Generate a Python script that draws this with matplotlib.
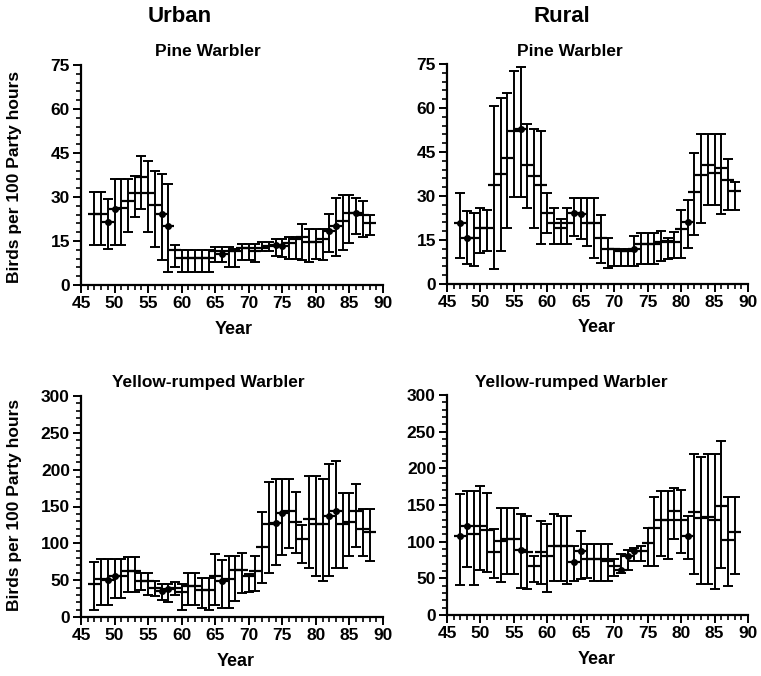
import matplotlib
matplotlib.use("Agg")
import matplotlib.pyplot as plt
from matplotlib.ticker import MultipleLocator
import numpy as np

plt.rcParams['font.family'] = ['Liberation Sans', 'DejaVu Sans']

years = list(range(47, 89))

# Urban - Pine Warbler
up_mean = [24.1, 24.1, 21.6, 25.8, 26.1, 28.6, 31.2, 36.8, 31.2, 27.3, 24.3, 20.1, 11.9,
           9.2, 9.2, 9.2, 9.2, 9.2, 11.7, 10.5, 11.7, 11.7, 12.6, 12.6, 11.7, 12.6, 13.3,
           13.6, 13.3, 14.3, 15.6, 16.2, 14.7, 14.7, 15.8, 18.4, 20.1, 21.8, 24.7, 24.7, 23.9, 21.3]
up_high = [31.7, 31.7, 29.2, 36.3, 36.3, 36.3, 37.3, 44.1, 42.4, 38.8, 38.0, 34.5, 13.6,
           11.9, 11.9, 11.9, 11.9, 11.9, 12.8, 12.8, 12.8, 12.4, 13.9, 13.9, 13.9, 14.5, 14.5,
           15.6, 15.6, 16.4, 16.4, 20.9, 19.0, 19.0, 19.0, 24.3, 29.5, 30.7, 30.7, 29.5, 28.8, 23.8]
up_low = [13.6, 13.6, 12.4, 13.6, 13.6, 17.9, 23.2, 25.8, 18.1, 12.8, 8.6, 4.5, 6.0,
          4.3, 4.3, 4.3, 4.3, 4.3, 8.0, 8.0, 6.0, 6.0, 8.6, 8.6, 7.7, 11.7, 11.7,
          10.0, 9.5, 8.8, 8.8, 8.5, 8.0, 8.8, 8.6, 11.1, 10.0, 12.0, 14.3, 17.3, 16.4, 17.1]
up_dot = [0, 0, 1, 1, 0, 0, 0, 0, 0, 0, 1, 1, 0,
          0, 0, 0, 0, 0, 0, 1, 0, 0, 0, 0, 0, 0, 0,
          1, 1, 0, 0, 0, 0, 0, 0, 1, 1, 0, 0, 1, 0, 0]

# Rural - Pine Warbler
rp_mean = [20.9, 15.8, 15.6, 19.2, 19.2, 33.9, 37.6, 43.0, 52.3, 52.9, 40.7, 36.8, 33.9,
           24.3, 20.9, 19.0, 20.9, 24.3, 23.8, 20.9, 20.9, 15.8, 11.9, 11.9, 11.3, 11.3, 11.9,
           13.6, 13.6, 13.6, 14.4, 14.7, 14.4, 18.7, 21.3, 31.4, 37.1, 40.4, 37.9, 39.6, 35.3, 31.7]
rp_high = [31.1, 24.9, 24.1, 25.8, 25.1, 60.7, 63.3, 65.0, 72.7, 73.9, 54.6, 52.9, 52.3,
           31.1, 26.0, 22.0, 26.0, 29.4, 29.4, 29.4, 29.4, 23.4, 15.6, 11.9, 11.9, 11.9, 16.4,
           17.5, 17.5, 17.5, 18.1, 15.6, 17.8, 25.1, 28.8, 44.5, 51.1, 51.1, 51.1, 51.1, 42.6, 34.8]
rp_low = [8.7, 6.8, 6.0, 10.5, 11.3, 5.1, 11.3, 19.0, 29.6, 29.6, 26.0, 19.2, 13.8,
          17.3, 13.8, 13.8, 13.8, 16.4, 15.5, 13.0, 8.7, 7.0, 5.3, 6.0, 6.0, 6.0, 6.0,
          6.8, 6.8, 6.8, 7.9, 8.5, 8.7, 8.7, 12.2, 16.6, 20.9, 27.1, 27.1, 23.8, 25.1, 25.1]
rp_dot = [1, 1, 0, 0, 0, 0, 0, 0, 0, 1, 0, 0, 0,
          0, 0, 0, 0, 1, 1, 0, 0, 0, 0, 0, 0, 0, 1,
          0, 0, 0, 0, 0, 0, 0, 1, 0, 0, 0, 0, 0, 0, 0]

# Urban - Yellow-rumped Warbler
uy_mean = [45, 52, 50.5, 55, 55, 61.8, 61.8, 48.3, 48.3, 39.2, 35, 37.9, 39.2,
           33.8, 41.5, 41.5, 36, 36, 55, 48.3, 52, 64, 64, 55, 62.7, 95.6, 125.8,
           127, 140.7, 143.9, 129.5, 105.5, 132.6, 126.3, 126.3, 137, 144, 126, 129.5, 144, 119, 116]
uy_high = [75.3, 79, 79, 79, 79, 82.1, 82.1, 59.5, 59.5, 48.3, 45, 45, 47.4,
           45.1, 60.4, 60.4, 52.8, 52.8, 85.7, 77.6, 83.4, 83.4, 86.6, 58, 83.4, 142, 183.6,
           187, 187, 187, 170, 125, 191, 191, 188, 208, 212, 169, 169, 180, 146.6, 146.6]
uy_low = [9.9, 16.7, 16.7, 25.7, 25.7, 33.8, 33.8, 37, 30.2, 28.9, 23.5, 20.3, 30,
          9.9, 16.7, 16.7, 12.2, 9.9, 16.7, 12.2, 12.2, 21.2, 32.5, 33.8, 34.7, 46, 59.5,
          70, 84.3, 93.4, 86.6, 73, 66.3, 55.9, 48.3, 55.9, 66, 66, 83.4, 95.6, 83.4, 76]
uy_dot = [0, 0, 1, 1, 0, 0, 0, 0, 0, 0, 1, 1, 0,
          0, 0, 0, 0, 0, 0, 1, 0, 0, 0, 0, 0, 0, 0,
          1, 1, 0, 0, 0, 0, 0, 0, 1, 1, 0, 0, 0, 0, 0]

# Rural - Yellow-rumped Warbler
ry_mean = [107.4, 121, 111, 121, 116.4, 86, 100.6, 103.8, 103.8, 88.4, 86, 66.6, 86,
           80.2, 93.8, 93.8, 93.8, 72, 87, 77, 77, 77, 73.4, 66.6, 61, 80.2, 87,
           87, 98.3, 118.7, 129, 129, 142.3, 129, 108.3, 140, 132.3, 133.7, 130, 148, 102.9, 112.8]
ry_high = [165.4, 169.5, 169.5, 176, 166, 117.4, 146, 146, 146, 138, 134.6, 80.2, 127.8,
           124.6, 138.2, 135.5, 135.5, 93.8, 114, 97.4, 97.4, 97.4, 97.4, 75.7, 83.4, 88.4, 91.5,
           93.8, 118.7, 160.8, 169.5, 169.5, 173, 170.8, 135.5, 219.8, 216, 219.8, 219.8, 237.4, 160.8, 160.8]
ry_low = [40.3, 65.2, 40.3, 61, 58.4, 50.7, 44.9, 55.3, 55.3, 37.2, 34.9, 44.9, 41.7,
          31.3, 46.2, 46.2, 41.7, 46.2, 49.4, 50.7, 46.2, 46.2, 46.2, 53, 56.6, 62, 73.4,
          73.4, 66.6, 66.6, 80.2, 76.6, 103.8, 84.7, 76.6, 56.2, 41.7, 41.7, 34.9, 64.3, 39.4, 55.3]
ry_dot = [1, 1, 0, 0, 0, 0, 0, 0, 0, 1, 0, 0, 0,
          0, 0, 0, 0, 1, 1, 0, 0, 0, 0, 0, 1, 1, 1,
          0, 0, 0, 0, 0, 0, 0, 1, 0, 0, 0, 0, 0, 0, 0]

W, H = 761, 676
fig = plt.figure(figsize=(W / 100, H / 100), dpi=100)


def make_axes(left, right, top, bottom):
    return fig.add_axes([left / W, 1 - bottom / H, (right - left) / W, (bottom - top) / H])


panels = [
    (make_axes(81, 383, 65, 285), up_mean, up_low, up_high, up_dot, 75, 15, 3),
    (make_axes(447, 748, 64, 284), rp_mean, rp_low, rp_high, rp_dot, 75, 15, 3),
    (make_axes(81, 383, 396, 617), uy_mean, uy_low, uy_high, uy_dot, 300, 50, 10),
    (make_axes(447, 748, 395, 615), ry_mean, ry_low, ry_high, ry_dot, 300, 50, 10),
]

for ax, m, lo, hi, dot, ymax, ymaj, ymin in panels:
    x = np.array(years)
    m = np.array(m); lo = np.array(lo); hi = np.array(hi); dot = np.array(dot, bool)
    ax.errorbar(x, m, yerr=[m - lo, hi - m], fmt='none', ecolor='black',
                elinewidth=1.4, capsize=3.8, capthick=1.4)
    ax.plot(x, m, linestyle='none', marker='_', markersize=8, markeredgewidth=1.6, color='black')
    ax.plot(x[dot], m[dot], linestyle='none', marker='o', markersize=4, color='black')
    ax.set_xlim(45, 90)
    ax.set_ylim(0, ymax)
    ax.xaxis.set_major_locator(MultipleLocator(5))
    ax.xaxis.set_minor_locator(MultipleLocator(1))
    ax.yaxis.set_major_locator(MultipleLocator(ymaj))
    ax.yaxis.set_minor_locator(MultipleLocator(ymin))
    for s in ('top', 'right'):
        ax.spines[s].set_visible(False)
    for s in ('left', 'bottom'):
        ax.spines[s].set_linewidth(1.6)
    ax.tick_params(axis='both', which='major', length=6, width=1.4, labelsize=12.5, pad=2)
    ax.tick_params(axis='both', which='minor', length=3.5, width=1.2)
    for lab in ax.get_xticklabels() + ax.get_yticklabels():
        lab.set_fontweight('bold')
    ax.patch.set_alpha(0)

# Headers and labels
fig.text(180 / W, 1 - 17 / H, 'Urban', ha='center', va='center', fontsize=16, fontweight='bold')
fig.text(562 / W, 1 - 17 / H, 'Rural', ha='center', va='center', fontsize=16, fontweight='bold')
fig.text(208 / W, 1 - 52 / H, 'Pine Warbler', ha='center', va='center', fontsize=12.5, fontweight='bold')
fig.text(570 / W, 1 - 52 / H, 'Pine Warbler', ha='center', va='center', fontsize=12.5, fontweight='bold')
fig.text(208 / W, 1 - 383 / H, 'Yellow-rumped Warbler', ha='center', va='center', fontsize=12.5, fontweight='bold')
fig.text(571 / W, 1 - 383 / H, 'Yellow-rumped Warbler', ha='center', va='center', fontsize=12.5, fontweight='bold')
for xc, yc in [(234, 329), (597, 327), (236, 661), (597, 660)]:
    fig.text(xc / W, 1 - yc / H, 'Year', ha='center', va='center', fontsize=13, fontweight='bold')
for yc in [177, 505]:
    fig.text(15 / W, 1 - yc / H, 'Birds per 100 Party hours', ha='center', va='center',
             fontsize=12.5, rotation=90, fontweight='bold')

fig.savefig('out.png', dpi=100)
